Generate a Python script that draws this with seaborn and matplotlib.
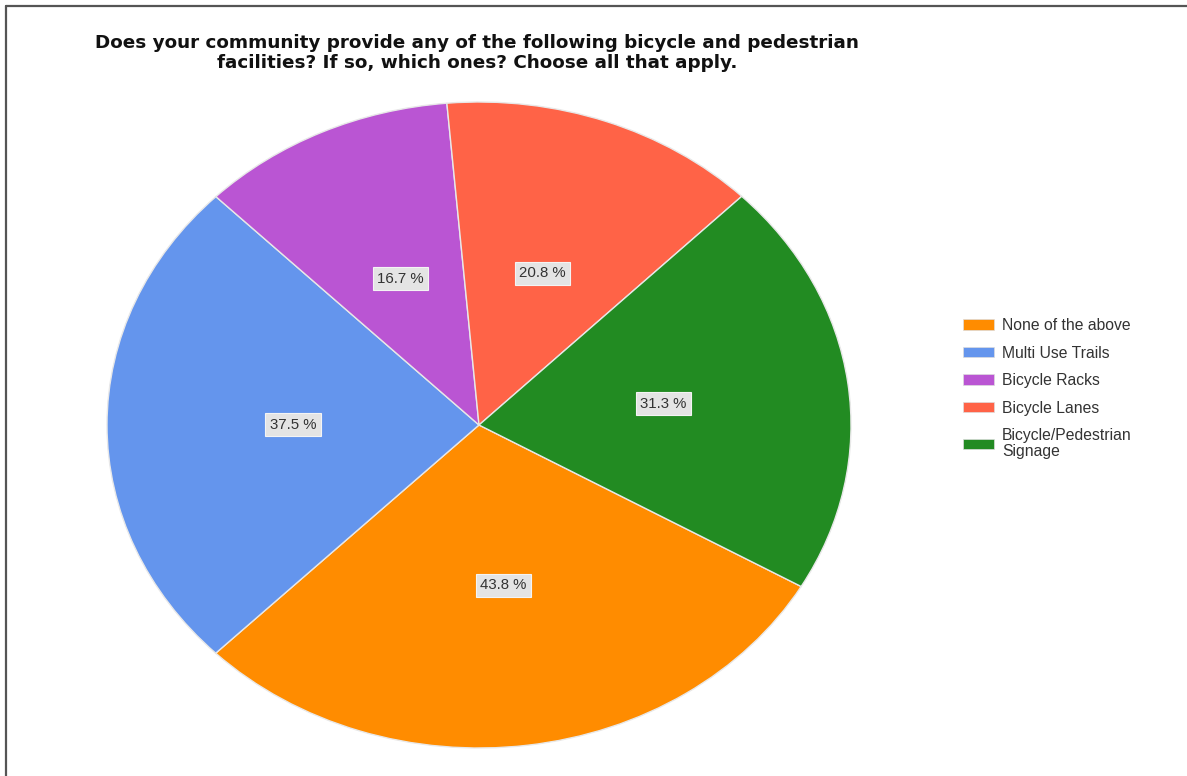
import matplotlib
matplotlib.use("Agg")
import matplotlib.pyplot as plt
from matplotlib.patches import Patch
from matplotlib.lines import Line2D
import seaborn as sns

# Survey responses (percent of respondents, multiple answers allowed)
categories = ["None of the above", "Multi Use Trails", "Bicycle Racks",
              "Bicycle Lanes", "Bicycle/Pedestrian\nSignage"]
percents = [43.8, 37.5, 16.7, 20.8, 31.3]
colors = ["#FF8C00", "#6495ED", "#BA55D3", "#FF6347", "#228B22"]
title = ("Does your community provide any of the following bicycle and pedestrian\n"
         "facilities? If so, which ones? Choose all that apply.")

sns.set_theme(style="white")
plt.rcParams["font.family"] = ["Liberation Sans", "DejaVu Sans"]

W, H = 1187, 776
fig = plt.figure(figsize=(W / 100, H / 100), dpi=100)
fig.patch.set_facecolor("white")

# Elliptical pie: axes spans the ellipse bounding box with auto aspect
cx, cy, rx, ry = 479, 425, 372, 323
ax = fig.add_axes([(cx - rx) / W, 1 - (cy + ry) / H, 2 * rx / W, 2 * ry / H])

wedges, texts, autotexts = ax.pie(
    percents,
    colors=colors,
    startangle=330,
    counterclock=False,
    autopct=lambda p: "",
    pctdistance=0.5,
    wedgeprops=dict(edgecolor="#e8e8e8", linewidth=1.0),
)
for t, v in zip(autotexts, percents):
    t.set_text(f"{v:.1f} %")
    t.set_fontsize(10.8)
    t.set_color("#333333")
    t.set_bbox(dict(boxstyle="square,pad=0.3", facecolor="#e4e4e4",
                    edgecolor="#f4f4f4", linewidth=0.8))
ax.set_aspect("auto")
ax.set_xlim(-1, 1)
ax.set_ylim(-1, 1)
ax.axis("off")

fig.text(477 / W, 1 - 53 / H, title, ha="center", va="center",
         fontsize=13.2, fontweight="bold", color="#111111", linespacing=1.12,
         family="DejaVu Sans")

handles = [Patch(facecolor=c, edgecolor="#dddddd", linewidth=0.5) for c in colors]
leg = fig.legend(handles, categories, loc="upper left",
                 bbox_to_anchor=(963 / W, 1 - 318 / H),
                 frameon=False, fontsize=11.3, borderpad=0, borderaxespad=0,
                 handlelength=2.0, handleheight=0.65, handletextpad=0.5,
                 labelspacing=0.8)
for t in leg.get_texts():
    t.set_color("#333333")
    t.set_linespacing(1.05)

# Frame lines along the top and left edges
fig.add_artist(Line2D([5.5 / W, 1], [1 - 5.5 / H, 1 - 5.5 / H],
                      transform=fig.transFigure, color="#555555", linewidth=1.6))
fig.add_artist(Line2D([5.5 / W, 5.5 / W], [0, 1 - 5.5 / H],
                      transform=fig.transFigure, color="#555555", linewidth=1.6))

fig.savefig("out.png", dpi=100, facecolor="white")
